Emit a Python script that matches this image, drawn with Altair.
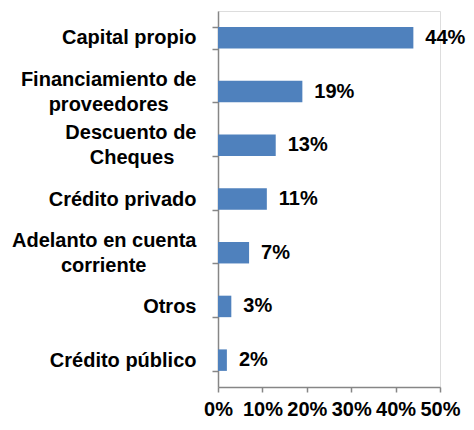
import altair as alt
import pandas as pd

categories = [
    "Capital propio",
    "Financiamiento de|proveedores",
    "Descuento de|Cheques",
    "Crédito privado",
    "Adelanto en cuenta|corriente",
    "Otros",
    "Crédito público",
]
values = [0.44, 0.19, 0.13, 0.11, 0.07, 0.03, 0.02]
x_ticks = [0, 0.1, 0.2, 0.3, 0.4, 0.5]

# non-breaking-space padding so the second line sits centred under the first
second_line_pad = {"Financiamiento de|proveedores": 5, "Descuento de|Cheques": 4,
                   "Adelanto en cuenta|corriente": 9}

def label_for(c):
    parts = c.split("|")
    if len(parts) == 2:
        parts[1] = parts[1] + "\u00a0" * second_line_pad.get(c, 0) + "\u200b"
    return "|".join(parts)

df = pd.DataFrame({"cat": [label_for(c) for c in categories], "value": values})
order = list(df["cat"])

FONT = "Liberation Sans"
FS = 20
AX = "#868686"
BLUE = "#4F81BD"

y_enc = alt.Y(
    "cat:N",
    sort=order,
    scale=alt.Scale(paddingInner=0.6, paddingOuter=0.3),
    axis=alt.Axis(
        title=None,
        labelExpr="split(datum.label, '|')",
        labelFont=FONT,
        labelFontSize=FS,
        labelFontWeight="bold",
        labelColor="black",
        labelLineHeight=25,
        labelOffset=alt.condition("indexof(datum.label, '|') >= 0", alt.value(-12.5), alt.value(0)),
        labelPadding=16,
        labelLimit=300,
        tickBand="extent",
        tickSize=6,
        tickColor=AX,
        tickWidth=1.5,
        domainColor=AX,
        domainWidth=1.5,
    ),
)

bars = alt.Chart(df).mark_bar(color=BLUE).encode(
    x=alt.X(
        "value:Q",
        scale=alt.Scale(domain=[0, 0.5], nice=False),
        axis=alt.Axis(
            title=None,
            format=".0%",
            values=x_ticks,
            grid=False,
            labelFont=FONT,
            labelFontSize=FS,
            labelFontWeight="bold",
            labelColor="black",
            labelPadding=7,
            labelFlush=False,
            tickSize=5,
            tickColor=AX,
            tickWidth=1.5,
            domainColor=AX,
            domainWidth=1.5,
        ),
    ),
    y=y_enc,
)

text = alt.Chart(df).mark_text(
    align="left", baseline="middle", dx=12, font=FONT, fontSize=FS,
    fontWeight="bold", color="black"
).encode(
    x="value:Q",
    y=alt.Y("cat:N", sort=order),
    text=alt.Text("value:Q", format=".0%"),
)

chart = (bars + text).properties(
    width=222,
    height=376,
    autosize=alt.AutoSizeParams(type="none"),
    padding={"left": 210, "top": 3, "right": 26, "bottom": 35},
).configure_view(stroke=None).configure(background="white")

chart.save("out.html", embed_options={"renderer": "svg", "actions": False})
